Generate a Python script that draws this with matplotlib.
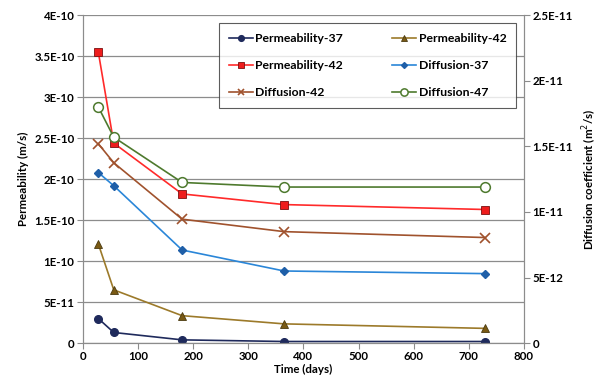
import numpy as np
import matplotlib.pyplot as plt

plt.rcParams['font.family'] = ['Lato', 'DejaVu Sans']

days = [28, 56, 180, 365, 730]

# permeability, m/s (left axis)
perm_37 = [3.0e-11, 1.3e-11, 4.0e-12, 2.0e-12, 2.0e-12]
perm_42_tri = [1.21e-10, 6.5e-11, 3.35e-11, 2.35e-11, 1.8e-11]
perm_42_sq = [3.55e-10, 2.44e-10, 1.82e-10, 1.69e-10, 1.63e-10]

# diffusion coefficient, m2/s (right axis)
diff_37 = [1.30e-11, 1.20e-11, 7.1e-12, 5.5e-12, 5.3e-12]
diff_42 = [1.52e-11, 1.375e-11, 9.45e-12, 8.5e-12, 8.05e-12]
diff_47 = [1.80e-11, 1.57e-11, 1.225e-11, 1.19e-11, 1.19e-11]

left_ticks = [0, 5e-11, 1e-10, 1.5e-10, 2e-10, 2.5e-10, 3e-10, 3.5e-10, 4e-10]
left_labels = ["0", "5E-11", "1E-10", "1.5E-10", "2E-10", "2.5E-10", "3E-10", "3.5E-10", "4E-10"]
right_ticks = [0, 5e-12, 1e-11, 1.5e-11, 2e-11, 2.5e-11]
right_labels = ["0", "5E-12", "1E-11", "1.5E-11", "2E-11", "2.5E-11"]

grey = '#8c8c8c'
fs = 8.3

fig = plt.figure(figsize=(6.05, 3.8), dpi=100)
ax = fig.add_axes([0.137, 0.097, 0.729, 0.863])
ax2 = ax.twinx()

l1, = ax.plot(days, perm_37, color='#1f2a5c', lw=1.2, marker='o', ms=5.5,
              mfc='#1f2a5c', mec='#1f2a5c', label='Permeability-37')
l2, = ax.plot(days, perm_42_tri, color='#9c7a2a', lw=1.2, marker='^', ms=6,
              mfc='#7a5a14', mec='#4a3a10', mew=0.6, label='Permeability-42')
l3, = ax.plot(days, perm_42_sq, color='#ff2a2a', lw=1.2, marker='s', ms=6,
              mfc='#ee1c1c', mec='#7a1010', mew=0.6, label='Permeability-42')
l4, = ax2.plot(days, diff_37, color='#2a86d8', lw=1.2, marker='D', ms=4,
               mfc='#1f5fa8', mec='#1f5fa8', label='Diffusion-37')
l5, = ax2.plot(days, diff_42, color='#a0522d', lw=1.2, marker='x', ms=6.5,
               mec='#a0522d', mew=1.2, label='Diffusion-42')
l6, = ax2.plot(days, diff_47, color='#4e7a2e', lw=1.2, marker='o', ms=7,
               mfc='white', mec='#4e7a2e', mew=1.1, label='Diffusion-47')

ax.set_xlim(0, 800)
ax.set_ylim(0, 4e-10)
ax2.set_ylim(0, 2.5e-11)
ax.set_xticks(range(0, 801, 100))
ax.set_xticklabels([str(v) for v in range(0, 801, 100)], fontsize=fs, fontweight='bold')
ax.set_yticks(left_ticks)
ax.set_yticklabels(left_labels, fontsize=fs, fontweight='bold')
ax2.set_yticks(right_ticks)
ax2.set_yticklabels(right_labels, fontsize=fs, fontweight='bold')

ax.grid(axis='y', color=grey, lw=0.9)
ax.set_axisbelow(True)
for a in (ax, ax2):
    for s in a.spines.values():
        s.set_color(grey)
    a.spines['top'].set_visible(False)
    a.tick_params(colors='black', direction='out', length=4, color=grey, pad=2)

ax.set_xlabel('Time (days)', fontsize=fs, fontweight='bold', labelpad=1)
ax.set_ylabel('Permeability (m/s)', fontsize=fs, fontweight='bold', labelpad=4)
ax2.set_ylabel('Diffusion coefficient (m$^2$/s)', fontsize=fs, fontweight='bold', labelpad=6)

handles = [l1, l3, l5, l2, l4, l6]
leg = ax.legend(handles, [h.get_label() for h in handles], ncol=2,
                loc='upper left', bbox_to_anchor=(0.308, 0.975),
                frameon=True, fancybox=False, edgecolor='#333333',
                prop={'size': 8.8, 'weight': 'bold'}, handlelength=2.0,
                markerscale=0.75, columnspacing=4.0, labelspacing=1.3,
                borderpad=0.8, borderaxespad=0, handletextpad=0.2)
leg.get_frame().set_linewidth(0.8)
leg.set_zorder(10)

fig.savefig('out.png', dpi=100)
